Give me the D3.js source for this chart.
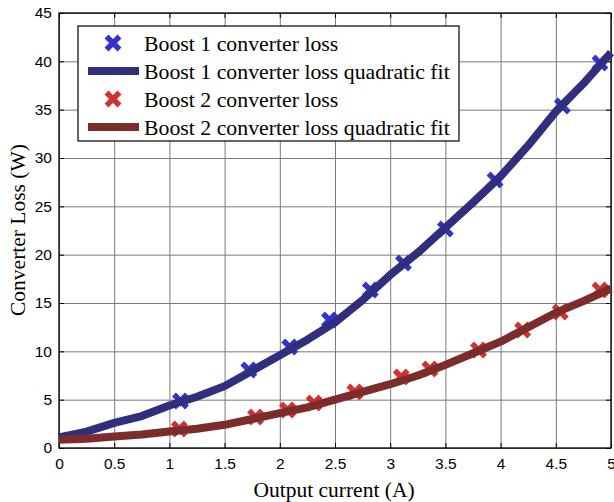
<!DOCTYPE html>
<html>
<head>
<meta charset="utf-8">
<script src="https://cdn.jsdelivr.net/npm/d3@7"></script>
<style>
  html, body { margin: 0; padding: 0; background: #fff; }
  svg { display: block; }
</style>
</head>
<body>
<svg id="chart" width="614" height="502"></svg>
<script>
// Measured converter losses (A, W)
const boost1Current = [1.10, 1.72, 2.09, 2.45, 2.82, 3.12, 3.50, 3.95, 4.56, 4.90];
const boost1Loss    = [4.86, 8.07, 10.45, 13.24, 16.34, 19.14, 22.65, 27.72, 35.38, 39.83];
const boost2Current = [1.09, 1.78, 2.07, 2.31, 2.68, 3.10, 3.36, 3.80, 4.20, 4.54, 4.90];
const boost2Loss    = [1.97, 3.21, 3.93, 4.66, 5.79, 7.34, 8.17, 10.14, 12.21, 14.07, 16.34];

// Quadratic fit curves, sampled along the current range
const fitCurrent = [0, 0.25, 0.5, 0.75, 1, 1.25, 1.5, 1.75, 2, 2.25, 2.5, 2.75, 3, 3.25, 3.5, 3.75, 4, 4.25, 4.5, 4.75, 5];
const boost1Fit  = [1.1, 1.7, 2.6, 3.3, 4.4, 5.3, 6.4, 8.0, 9.6, 11.2, 13.0, 15.3, 17.9, 20.2, 22.8, 25.4, 28.1, 31.3, 34.8, 37.7, 40.9];
const boost2Fit  = [0.85, 0.95, 1.2, 1.4, 1.7, 2.0, 2.4, 3.0, 3.6, 4.2, 5.0, 5.8, 6.6, 7.5, 8.6, 9.8, 11.0, 12.5, 14.0, 15.2, 16.5];

const xTicks = [0, 0.5, 1, 1.5, 2, 2.5, 3, 3.5, 4, 4.5, 5];
const yTicks = [0, 5, 10, 15, 20, 25, 30, 35, 40, 45];

const legendLabels = [
  "Boost 1 converter loss",
  "Boost 1 converter loss quadratic fit",
  "Boost 2 converter loss",
  "Boost 2 converter loss quadratic fit"
];

const col = {
  b1Mark: "#3232cc",
  b1Line: "#2f2f7e",
  b2Mark: "#d03232",
  b2Line: "#7d2c2c"
};

const svg = d3.select("#chart");
const m = { left: 59, top: 13, right: 611, bottom: 448 };

const x = d3.scaleLinear().domain([0, 5]).range([m.left, m.right]);
const y = d3.scaleLinear().domain([0, 45]).range([m.bottom, m.top]);

const W = m.right - m.left, H = m.bottom - m.top;

// grid
svg.append("g")
  .attr("transform", `translate(0,${m.bottom})`)
  .call(d3.axisBottom(x).tickValues(xTicks).tickSize(-H).tickFormat(""))
  .call(g => g.select(".domain").remove())
  .call(g => g.selectAll("line").attr("stroke", "#7a7a7a").attr("stroke-width", 1));
svg.append("g")
  .attr("transform", `translate(${m.left},0)`)
  .call(d3.axisLeft(y).tickValues(yTicks).tickSize(-W).tickFormat(""))
  .call(g => g.select(".domain").remove())
  .call(g => g.selectAll("line").attr("stroke", "#7a7a7a").attr("stroke-width", 1));

// axes with inward ticks
const tickFont = "'Liberation Sans', Arial, Helvetica, sans-serif";
const xAxis = svg.append("g")
  .attr("transform", `translate(0,${m.bottom})`)
  .call(d3.axisBottom(x).tickValues(xTicks).tickSizeInner(-5).tickSizeOuter(0).tickPadding(10).tickFormat(d3.format("")));
xAxis.selectAll("text").attr("font-family", tickFont).attr("font-size", 15.5).attr("fill", "#000");
xAxis.select(".domain").remove();

const yAxis = svg.append("g")
  .attr("transform", `translate(${m.left},0)`)
  .call(d3.axisLeft(y).tickValues(yTicks).tickSizeInner(-5).tickSizeOuter(0).tickPadding(7).tickFormat(d3.format("")));
yAxis.selectAll("text").attr("font-family", tickFont).attr("font-size", 15.5).attr("fill", "#000");
yAxis.select(".domain").remove();

svg.append("g")
  .attr("transform", `translate(0,${m.top})`)
  .call(d3.axisTop(x).tickValues(xTicks).tickSizeInner(-5).tickSizeOuter(0).tickFormat(""))
  .call(g => g.select(".domain").remove());
svg.append("g")
  .attr("transform", `translate(${m.right},0)`)
  .call(d3.axisRight(y).tickValues(yTicks).tickSizeInner(-5).tickSizeOuter(0).tickFormat(""))
  .call(g => g.select(".domain").remove());

// plot box
svg.append("rect")
  .attr("x", m.left).attr("y", m.top).attr("width", W).attr("height", H)
  .attr("fill", "none").attr("stroke", "#000").attr("stroke-width", 1.3);

// data drawing
const xMark = "M-6.5,-6.5L6.5,6.5M-6.5,6.5L6.5,-6.5";
const line = d3.line().x(d => x(d[0])).y(d => y(d[1]));
const plot = svg.append("g");

function drawMarkers(xs, ys, color) {
  plot.append("g").selectAll("path")
    .data(d3.zip(xs, ys))
    .join("path")
    .attr("d", xMark)
    .attr("transform", d => `translate(${x(d[0])},${y(d[1])})`)
    .attr("stroke", color).attr("stroke-width", 5.5).attr("fill", "none");
}
function drawFit(vals, color) {
  plot.append("path")
    .datum(d3.zip(fitCurrent, vals))
    .attr("d", line)
    .attr("fill", "none").attr("stroke", color)
    .attr("stroke-width", 8).attr("stroke-linejoin", "round");
}

drawMarkers(boost1Current, boost1Loss, col.b1Mark);
drawFit(boost1Fit, col.b1Line);
drawMarkers(boost2Current, boost2Loss, col.b2Mark);
drawFit(boost2Fit, col.b2Line);

// legend
const serif = "'Liberation Serif', 'Times New Roman', Times, serif";
const lg = svg.append("g");
lg.append("rect")
  .attr("x", 78).attr("y", 26).attr("width", 381).attr("height", 115)
  .attr("fill", "#fff").attr("stroke", "#000").attr("stroke-width", 1.2);
const rowY = [43, 71, 99, 127];
const kinds = [
  { type: "mark", color: col.b1Mark },
  { type: "line", color: col.b1Line },
  { type: "mark", color: col.b2Mark },
  { type: "line", color: col.b2Line }
];
kinds.forEach((k, i) => {
  if (k.type === "mark") {
    lg.append("path").attr("d", xMark)
      .attr("transform", `translate(113,${rowY[i]})`)
      .attr("stroke", k.color).attr("stroke-width", 5.5).attr("fill", "none");
  } else {
    lg.append("line").attr("x1", 88).attr("x2", 139)
      .attr("y1", rowY[i]).attr("y2", rowY[i])
      .attr("stroke", k.color).attr("stroke-width", 8);
  }
  lg.append("text")
    .attr("x", 144).attr("y", rowY[i]).attr("dy", "0.35em")
    .attr("font-family", serif).attr("font-size", 21.8).attr("fill", "#000")
    .text(legendLabels[i]);
});

// axis titles
svg.append("text")
  .attr("x", 334).attr("y", 497)
  .attr("text-anchor", "middle")
  .attr("font-family", serif).attr("font-size", 21.5)
  .text("Output current (A)");
svg.append("text")
  .attr("transform", "translate(25,230) rotate(-90)")
  .attr("text-anchor", "middle")
  .attr("font-family", serif).attr("font-size", 21.5)
  .text("Converter Loss (W)");
</script>
</body>
</html>
